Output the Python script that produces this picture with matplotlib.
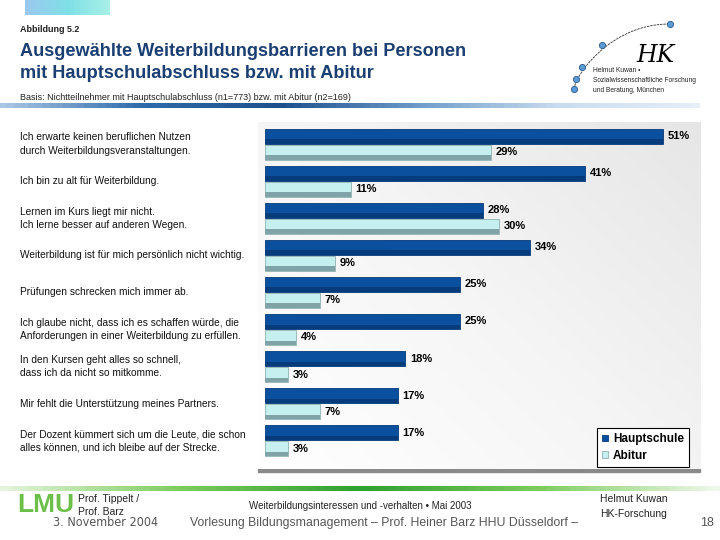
import numpy as np
import matplotlib
matplotlib.use("Agg")
import matplotlib.pyplot as plt
from matplotlib.colors import LinearSegmentedColormap
from matplotlib.patches import Rectangle

plt.rcParams['font.family'] = ['Liberation Sans', 'DejaVu Sans']

categories = [
    "Ich erwarte keinen beruflichen Nutzen\ndurch Weiterbildungsveranstaltungen.",
    "Ich bin zu alt für Weiterbildung.",
    "Lernen im Kurs liegt mir nicht.\nIch lerne besser auf anderen Wegen.",
    "Weiterbildung ist für mich persönlich nicht wichtig.",
    "Prüfungen schrecken mich immer ab.",
    "Ich glaube nicht, dass ich es schaffen würde, die\nAnforderungen in einer Weiterbildung zu erfüllen.",
    "In den Kursen geht alles so schnell,\ndass ich da nicht so mitkomme.",
    "Mir fehlt die Unterstützung meines Partners.",
    "Der Dozent kümmert sich um die Leute, die schon\nalles können, und ich bleibe auf der Strecke.",
]
hauptschule = [51, 41, 28, 34, 25, 25, 18, 17, 17]
abitur = [29, 11, 30, 9, 7, 4, 3, 7, 3]
series_names = ["Hauptschule", "Abitur"]

W, H = 720, 540
fig = plt.figure(figsize=(7.2, 5.4), dpi=100)
fig.patch.set_facecolor("white")

# background full-figure axes for decorations (pixel coordinates)
bg = fig.add_axes([0, 0, 1, 1])
bg.set_xlim(0, W)
bg.set_ylim(H, 0)
bg.axis("off")

grad = np.linspace(0, 1, 100).reshape(1, -1)
cm1 = LinearSegmentedColormap.from_list("c1", ["#9cc8f0", "#7fe0e6", "#a8f0e8"])
bg.imshow(grad, extent=[25, 110, 15, 0], cmap=cm1, aspect="auto", zorder=1)

cm2 = LinearSegmentedColormap.from_list("c2", ["#a9c6e4", "#2f6aa8", "#1d4f8c", "#6f9cc9", "#c8dcef", "#e6eef8"])
bg.imshow(grad, extent=[0, 700, 108, 103], cmap=cm2, aspect="auto", zorder=1)

cm3 = LinearSegmentedColormap.from_list("c3", ["#e4f4dc", "#7ccc5c", "#2ea02e", "#7ccc5c", "#eef8ea"])
bg.imshow(grad, extent=[0, 720, 491, 486], cmap=cm3, aspect="auto", zorder=1)

# Logo curve with dots
t = np.linspace(0, 1, 50)
cx = 574 + 96 * t ** 1.3
cy = 89 - 65 * np.sin(t * np.pi / 2) ** 0.9
bg.plot(cx, cy, color="#333333", lw=0.6, ls=(0, (3, 1)), zorder=2)
for (dx, dy) in [(574, 89), (576, 79), (582, 67), (602, 45), (670, 24)]:
    bg.plot(dx, dy, "o", ms=4.5, mfc="#5b9bd5", mec="#2a5a8a", mew=0.6, zorder=3)
bg.text(655, 55, "HK", fontsize=17, family="DejaVu Serif", style="italic",
        ha="center", va="center", color="black", zorder=3)
bg.text(593, 70, "Helmut Kuwan •", fontsize=4.8, va="center", color="#222222")
bg.text(593, 80, "Sozialwissenschaftliche Forschung", fontsize=4.8, va="center", color="#222222")
bg.text(593, 90, "und Beratung, München", fontsize=4.8, va="center", color="#222222")

# Titles
bg.text(20, 30, "Abbildung 5.2", fontsize=6.5, fontweight="bold", va="center", color="#222222")
bg.text(20, 52, "Ausgewählte Weiterbildungsbarrieren bei Personen", fontsize=13.1,
        fontweight="bold", va="center", color="#1b3f73")
bg.text(20, 74, "mit Hauptschulabschluss bzw. mit Abitur", fontsize=13.1,
        fontweight="bold", va="center", color="#1b3f73")
bg.text(20, 97, "Basis: Nichtteilnehmer mit Hauptschulabschluss (n1=773) bzw. mit Abitur (n2=169)",
        fontsize=6.5, va="center", color="#222222")

# Footer
bg.text(46, 505, "LMU", fontsize=19, fontweight="bold", color="#6cc04a", ha="center", va="center")
bg.text(78, 499, "Prof. Tippelt /", fontsize=7.5, va="center", color="#222222")
bg.text(78, 512, "Prof. Barz", fontsize=7.5, va="center", color="#222222")
bg.text(360, 506, "Weiterbildungsinteressen und -verhalten • Mai 2003", fontsize=7,
        ha="center", va="center", color="#222222")
bg.text(634, 499, "Helmut Kuwan", fontsize=7.5, ha="center", va="center", color="#222222")
bg.text(634, 514, "HK-Forschung", fontsize=7.5, ha="center", va="center", color="#222222")
bg.text(53, 523, "3. November 2004", fontsize=9, va="center", color="#555555",
        family="DejaVu Sans", fontstretch="condensed")
bg.text(190, 523, "Vorlesung Bildungsmanagement – Prof. Heiner Barz HHU Düsseldorf –",
        fontsize=8.8, va="center", color="#555555")
bg.text(700, 523, "18", fontsize=9, va="center", color="#555555")

# Chart panel shadow at bottom
bg.add_patch(Rectangle((258, 469), 442, 3, color="#8a8a8a", zorder=1))

# Chart axes
px_per = 7.8
x0 = 265
left_px, right_px, top_px, bot_px = 258, 700, 122, 469
row0 = 144
row_sp = 37.1
ax = fig.add_axes([left_px / W, 1 - bot_px / H, (right_px - left_px) / W, (bot_px - top_px) / H])
xl = ((left_px - x0) / px_per, (right_px - x0) / px_per)
yl = ((bot_px - row0) / row_sp, (top_px - row0) / row_sp)
ax.axis("off")

gy, gx = np.mgrid[0:1:100j, 0:1:100j]
val = 0.55 * gx + 0.45 * (1 - gy)
cm4 = LinearSegmentedColormap.from_list("c4", ["#ffffff", "#f5f5f5", "#e6e6e6"])
ax.imshow(val, extent=[xl[0], xl[1], yl[0], yl[1]], cmap=cm4, aspect="auto", zorder=0)
ax.set_xlim(*xl)
ax.set_ylim(*yl)

n = len(categories)
y = np.arange(n)
bh = 15 / row_sp
off = 8 / row_sp
b1 = ax.barh(y - off, hauptschule, height=bh, color="#0b4f9f", edgecolor="#063a78",
             linewidth=0.6, zorder=2, label=series_names[0])
b2 = ax.barh(y + off, abitur, height=bh, color="#c6f0f0", edgecolor="#8fb0b0",
             linewidth=0.6, zorder=2, label=series_names[1])
ax.barh(y - off + bh * 0.35, hauptschule, height=bh * 0.3, color="#073c7c", linewidth=0, zorder=2.5)
ax.barh(y + off + bh * 0.35, abitur, height=bh * 0.3, color="#7fa3a6", linewidth=0, zorder=2.5)

for i in range(n):
    ax.text(hauptschule[i] + 0.6, y[i] - off, f"{hauptschule[i]}%", fontsize=8,
            fontweight="bold", va="center", ha="left", zorder=3)
    ax.text(abitur[i] + 0.6, y[i] + off, f"{abitur[i]}%", fontsize=8,
            fontweight="bold", va="center", ha="left", zorder=3)
    fy = row0 + row_sp * i
    bg.text(20, fy, categories[i], fontsize=7.25, va="center", ha="left",
            color="#111111", linespacing=1.4)

leg = ax.legend(handles=[b1, b2], loc="upper left",
                bbox_to_anchor=(597 / W, 1 - 428 / H), bbox_transform=fig.transFigure,
                frameon=True, fancybox=False, edgecolor="black", framealpha=1,
                handlelength=0.5, handleheight=0.5, handletextpad=0.4,
                borderpad=0.45, labelspacing=0.4, borderaxespad=0,
                prop={"weight": "bold", "size": 8.5})
leg.get_frame().set_linewidth(0.8)

fig.savefig("out.png", dpi=100)
